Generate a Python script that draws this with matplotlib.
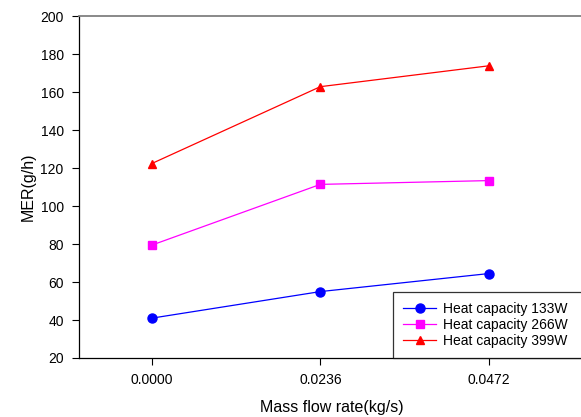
import matplotlib.pyplot as plt
import numpy as np

plt.rcParams['font.family'] = ['Liberation Sans', 'DejaVu Sans']

# ---------------- data ----------------
flow_rate = [0.0, 0.0236, 0.0472]
tick_labels = ["0.0000", "0.0236", "0.0472"]
mer_133w = [41, 55, 64.5]
mer_266w = [79.5, 111.5, 113.5]
mer_399w = [122.5, 163, 174]

fig = plt.figure(figsize=(5.81, 4.17), dpi=100)
ax = fig.add_axes([0.136, 0.1415, 0.87, 0.819])

ax.plot(flow_rate, mer_133w, color="blue", marker="o", markersize=6.5, lw=0.9,
        label="Heat capacity 133W")
ax.plot(flow_rate, mer_266w, color="magenta", marker="s", markersize=5.5, lw=0.9,
        label="Heat capacity 266W")
ax.plot(flow_rate, mer_399w, color="red", marker="^", markersize=6, lw=0.9,
        label="Heat capacity 399W")

ax.set_xlim(-0.0102, 0.0606)
ax.set_ylim(20, 200)
ax.set_xticks(flow_rate)
ax.set_xticklabels(tick_labels)
ax.set_yticks(np.arange(20, 201, 20))
ax.tick_params(direction="out", length=5, width=0.8, labelsize=10, pad=6)

ax.spines["right"].set_visible(False)
ax.spines["top"].set_color("#808080")
ax.spines["top"].set_linewidth(1.3)
ax.spines["left"].set_linewidth(0.9)
ax.spines["bottom"].set_linewidth(0.9)

ax.set_xlabel("Mass flow rate(kg/s)", fontsize=11.5, labelpad=9)
ax.set_ylabel("MER(g/h)", fontsize=11.5, labelpad=3)

leg = ax.legend(loc="lower left", bbox_to_anchor=(0.6215, 0.0, 0.45, 0.193),
                mode="expand", fontsize=10, frameon=True, fancybox=False,
                edgecolor="black", handlelength=2.4, borderaxespad=0,
                labelspacing=0.15, handletextpad=0.5, borderpad=0.7)
leg.get_frame().set_linewidth(0.9)

fig.savefig("out.png", dpi=100)
